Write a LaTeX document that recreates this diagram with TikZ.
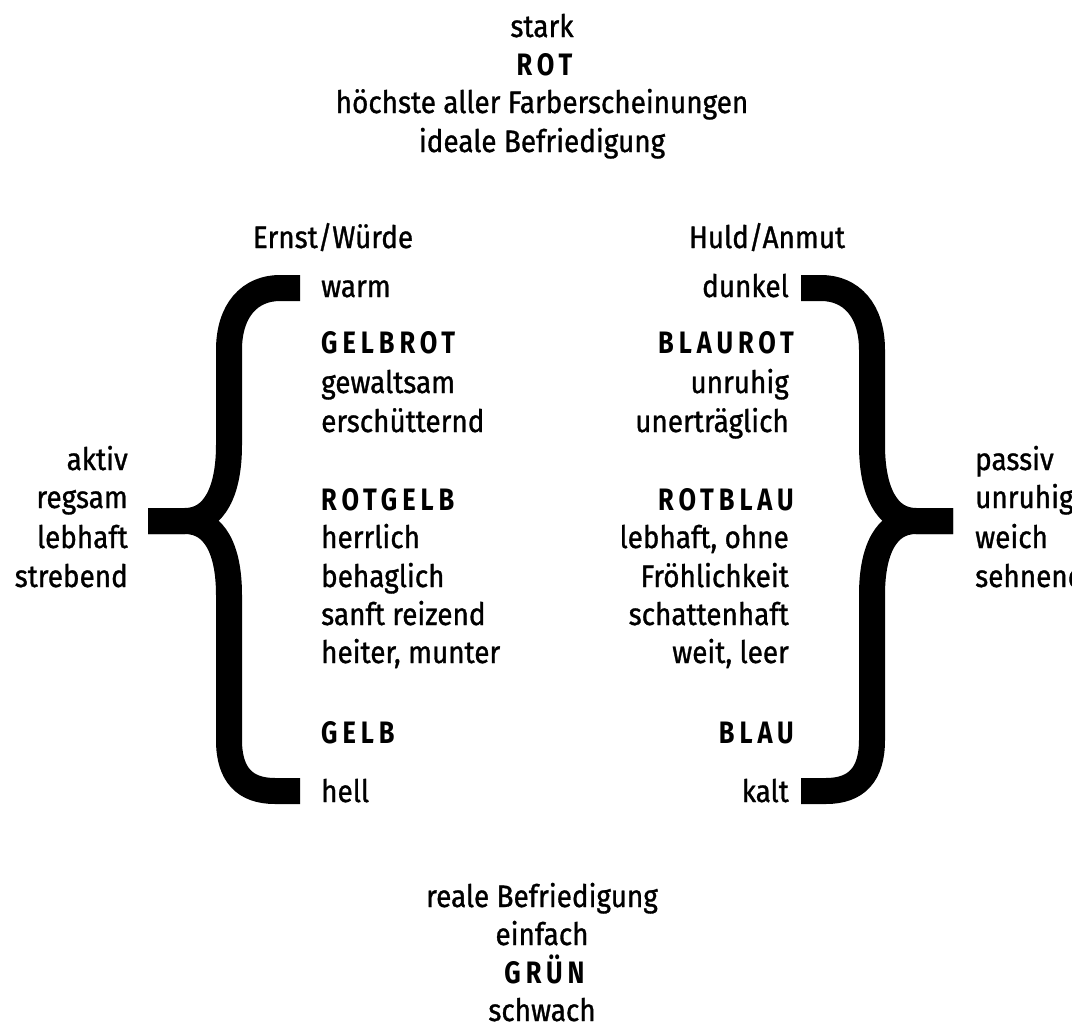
\documentclass[tikz,border=0pt]{standalone}
\usepackage{fontspec}
\setmainfont{Fira Sans}[FakeStretch=0.9,FakeBold=1]
\newfontfamily\farbfont{Fira Sans}[FakeStretch=0.82,LetterSpace=16]
\newcommand{\farbe}[1]{{\farbfont\bfseries #1\kern-0.16em}}

\begin{document}
\begin{tikzpicture}[x=1pt,y=-1pt,line join=round,line cap=butt]
	\tikzset{every node/.style={inner sep=0pt,font=\fontsize{31}{37}\selectfont},
		klammer/.style={line width=26pt}}
	\useasboundingbox (0,0) rectangle (1072,1031);
	% oben und unten
	\foreach \y/\txt [count=\i] in {37/stark,75/\farbe{ROT},113/höchste aller Farberscheinungen,152/ideale Befriedigung}
	\node[anchor=base] (oben\i) at (542,\y) {\txt};
	\foreach \y/\txt [count=\i] in {907/reale Befriedigung,945/einfach,983/\farbe{GRÜN},1021/schwach}
	\node[anchor=base] (unten\i) at (542,\y) {\txt};
	\node[anchor=base] (ernst) at (333,248) {Ernst/Würde};
	\node[anchor=base] (huld) at (767,248) {Huld/Anmut};
	% Spalten
	\foreach \y/\txt [count=\i] in {297/warm,353/\farbe{GELBROT},393/gewaltsam,432/erschütternd,510/\farbe{ROTGELB},548/herrlich,587/behaglich,625/sanft reizend,663/{heiter, munter},743/\farbe{GELB},802/hell}
	\node[anchor=base west] (links\i) at (321,\y) {\txt};
	\foreach \y/\txt [count=\i] in {297/dunkel,353/\farbe{BLAUROT},393/unruhig,432/unerträglich,510/\farbe{ROTBLAU},548/{lebhaft, ohne},587/Fröhlichkeit,625/schattenhaft,663/{weit, leer},743/\farbe{BLAU},802/kalt}
	\node[anchor=base east] (rechts\i) at (789,\y) {\txt};
	% aussen
	\foreach \y/\txt [count=\i] in {470/aktiv,508/regsam,548/lebhaft,587/strebend}
	\node[anchor=base east] (aktiv\i) at (128,\y) {\txt};
	\foreach \y/\txt [count=\i] in {470/passiv,508/unruhig,548/weich,587/sehnend}
	\node[anchor=base west] (passiv\i) at (975,\y) {\txt};
	% Klammern
	\draw[klammer] (148,521)--(185,521) .. controls (215,521) and (229,490) .. (229,445)--(229,350) .. controls (229,310) and (250,288) .. (280,288)--(300,288);
	\draw[klammer] (148,521)--(185,521) .. controls (215,521) and (229,550) .. (229,595)--(229,740) .. controls (229,775) and (245,791) .. (275,791)--(300,791);
	\draw[klammer] (953,521)--(916,521) .. controls (886,521) and (872,490) .. (872,445)--(872,350) .. controls (872,310) and (851,288) .. (821,288)--(801,288);
	\draw[klammer] (953,521)--(916,521) .. controls (886,521) and (872,550) .. (872,595)--(872,740) .. controls (872,775) and (856,791) .. (826,791)--(801,791);
\end{tikzpicture}
\end{document}
